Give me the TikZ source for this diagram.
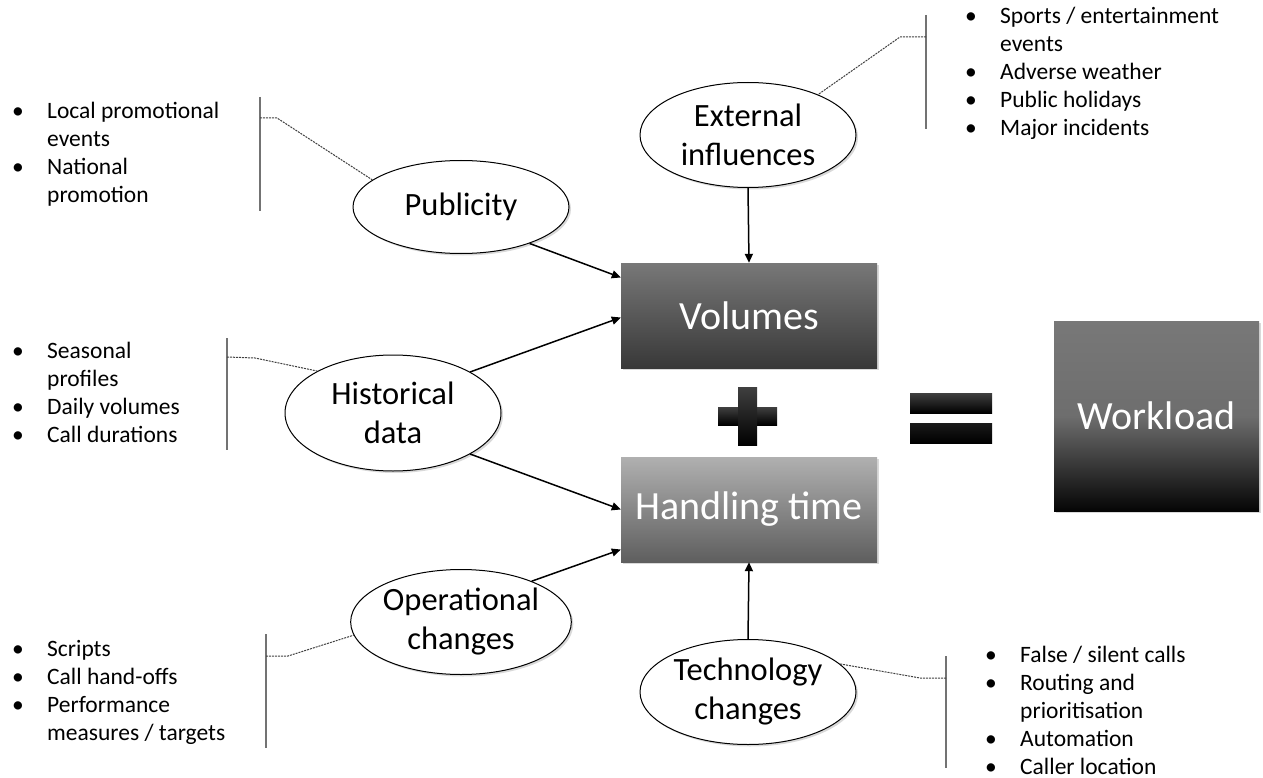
\documentclass[tikz,border=0pt]{standalone}
\usepackage{fontspec}
\setmainfont{Carlito}
\usetikzlibrary{shapes.geometric,arrows.meta,shadows}

% Aufzaehlung als Tabelle
\newcommand{\blist}[1]{\begin{tabular}[t]{@{}l@{}l@{}}#1\end{tabular}}
\newcommand{\bpkt}{\makebox[35pt][l]{\textbullet}}

\begin{document}
\begin{tikzpicture}[x=1pt,y=-1pt,
	ovale/.style={ellipse,draw,line width=1pt,fill=white,minimum width=216pt,minimum height=105pt,
		inner sep=0pt,align=center,font=\fontsize{32.5}{39}\selectfont,
		drop shadow={opacity=0.3,shadow xshift=2pt,shadow yshift=-2pt}},
	kasten/.style={rectangle,minimum width=256pt,minimum height=105pt,inner sep=0pt,text=white,
		font=\fontsize{40}{46}\selectfont,
		drop shadow={opacity=0.3,shadow xshift=2pt,shadow yshift=-2pt}},
	liste/.style={anchor=base west,inner sep=0pt,font=\fontsize{23.5}{28}\selectfont},
	pfeil/.style={-{Triangle[length=9pt,width=8pt]},line width=1.5pt},
	balken/.style={line width=1.5pt,black!55},
	leitung/.style={line width=1pt,black!75,dash pattern=on 2pt off 1pt}]
	\useasboundingbox (0,0) rectangle (1263,778);
	
	% Ellipsen
	\node[ovale] (ext) at (748,135) {External\\influences};
	\node[ovale,minimum height=93pt] (pub) at (461,207) {Publicity};
	\node[ovale,minimum height=116pt] (hist) at (393,413) {Historical\\data};
	\node[ovale] (op) at (461,622) {Operational\\changes};
	\node[ovale] (tech) at (748,692) {Technology\\changes};
	
	% Kaesten
	\node[kasten,top color=black!53,bottom color=black!78] (vol) at (749,315.5) {Volumes};
	\node[kasten,top color=black!31,bottom color=black!63] (ho) at (749,509.5) {Handling time};
	\node[kasten,minimum width=205pt,minimum height=190pt,top color=black!53,bottom color=black!98,
		middle color=black!57] (work) at (1156.5,416) {Workload};
	
	% Plus und Gleich
	\fill[top color=black!75,bottom color=black] (718,407) rectangle (777,425);
	\fill[top color=black!75,bottom color=black] (738,387) rectangle (757,445);
	\fill[top color=black!75,bottom color=black] (910,393) rectangle (992,413);
	\fill[top color=black!90,bottom color=black] (910,423) rectangle (992,443);
	
	% Pfeile
	\draw[pfeil] (ext.south) -- (vol.north);
	\draw[pfeil] (pub.-28) -- ([yshift=38pt]vol.west);
	\draw[pfeil] (hist.28) -- ([yshift=-2pt]vol.west);
	\draw[pfeil] (hist.-28) -- (ho.west);
	\draw[pfeil] (op.30) -- ([yshift=-40pt]ho.west);
	\draw[pfeil] (tech.north) -- (ho.south);
	
	% Listen
	\node[liste] (lpub) at (12,119) {\blist{\bpkt & Local promotional\\ & events\\ \bpkt & National\\ & promotion}};
	\node[liste] (lext) at (965,24) {\blist{\bpkt & Sports / entertainment\\ & events\\ \bpkt & Adverse weather\\
		\bpkt & Public holidays\\ \bpkt & Major incidents}};
	\node[liste] (lhist) at (12,358) {\blist{\bpkt & Seasonal\\ & profiles\\ \bpkt & Daily volumes\\ \bpkt & Call durations}};
	\node[liste] (lop) at (12,656) {\blist{\bpkt & Scripts\\ \bpkt & Call hand-offs\\ \bpkt & Performance\\ & measures / targets}};
	\node[liste] (ltech) at (985,662) {\blist{\bpkt & False / silent calls\\ \bpkt & Routing and\\ & prioritisation\\
		\bpkt & Automation\\ \bpkt & Caller location}};
	
	% Klammern mit gestrichelten Linien
	\draw[balken] (260,97) -- (260,211);
	\coordinate (pubk) at (260,118);
	\draw[leitung] (pubk) -- ++(17,0) -- (pub.163);
	\draw[balken] (926,15) -- (926,129);
	\coordinate (extk) at (926,37);
	\draw[leitung] (extk) -- ++(-26,0) -- (ext.30);
	\draw[balken] (227,338) -- (227,450);
	\coordinate (histk) at (227,357);
	\draw[leitung] (histk) -- ++(28,1) -- (hist.151);
	\draw[balken] (266,634) -- (266,748);
	\coordinate (opk) at (266,656);
	\draw[leitung] (opk) -- ++(22,0) -- (op.187);
	\draw[balken] (946,656) -- (946,768);
	\coordinate (techk) at (946,678);
	\draw[leitung] (techk) -- ++(-26,0) -- (tech.17);
\end{tikzpicture}
\end{document}
